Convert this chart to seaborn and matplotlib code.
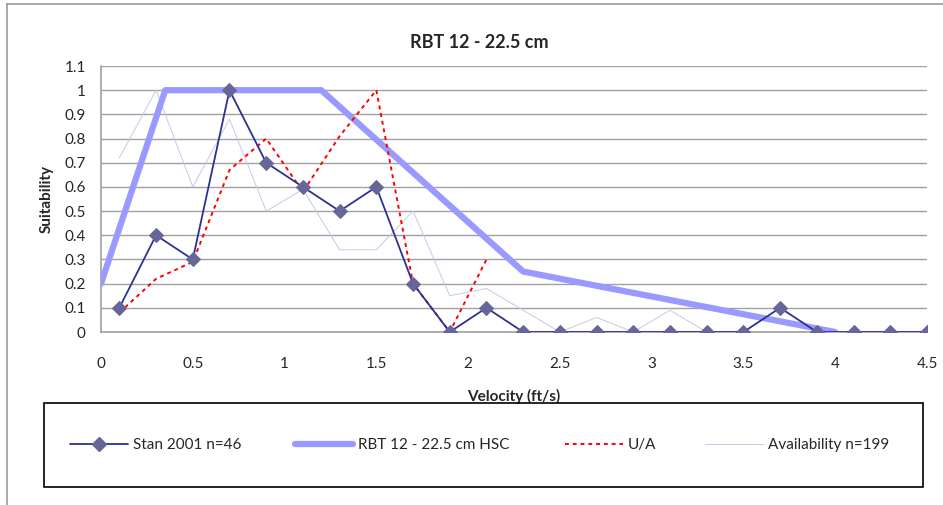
import numpy as np
import seaborn as sns
import matplotlib.pyplot as plt
from matplotlib.patches import Rectangle
from matplotlib.lines import Line2D

# dados
stan_x = [0.1, 0.3, 0.5, 0.7, 0.9, 1.1, 1.3, 1.5, 1.7, 1.9, 2.1, 2.3, 2.5, 2.7, 2.9, 3.1, 3.3, 3.5, 3.7, 3.9, 4.1, 4.3, 4.5]
stan_y = [0.1, 0.4, 0.3, 1.0, 0.7, 0.6, 0.5, 0.6, 0.2, 0.0, 0.1, 0.0, 0.0, 0.0, 0.0, 0.0, 0.0, 0.0, 0.1, 0.0, 0.0, 0.0, 0.0]

hsc_x = [0.0, 0.35, 1.2, 2.3, 4.0]
hsc_y = [0.2, 1.0, 1.0, 0.25, 0.0]

ua_x = [0.1, 0.3, 0.5, 0.7, 0.9, 1.1, 1.3, 1.5, 1.7, 1.9, 2.1]
ua_y = [0.08, 0.22, 0.29, 0.67, 0.80, 0.58, 0.81, 1.0, 0.20, 0.0, 0.30]

avail_x = [0.1, 0.3, 0.5, 0.7, 0.9, 1.1, 1.3, 1.5, 1.7, 1.9, 2.1, 2.3, 2.5, 2.7, 2.9, 3.1, 3.3, 3.5, 3.7, 3.9]
avail_y = [0.72, 1.0, 0.6, 0.88, 0.5, 0.59, 0.34, 0.34, 0.5, 0.15, 0.18, 0.09, 0.0, 0.06, 0.0, 0.09, 0.0, 0.0, 0.0, 0.0]

labels = ['Stan 2001 n=46', 'RBT 12 - 22.5 cm HSC', 'U/A', 'Availability n=199']

sns.set_style('white')
plt.rcParams['font.family'] = ['Lato', 'DejaVu Sans']

W, H = 943, 505
fig = plt.figure(figsize=(W / 100, H / 100), dpi=100)
ax = fig.add_axes([101 / W, 1 - 332 / H, 826 / W, 266 / H])

sns.lineplot(x=avail_x, y=avail_y, ax=ax, color='#c8c8e6', linewidth=0.7, zorder=2)
sns.lineplot(x=hsc_x, y=hsc_y, ax=ax, color='#9999ff', linewidth=4.5, zorder=3)
sns.lineplot(x=ua_x, y=ua_y, ax=ax, color='#ff0000', linewidth=1.4,
             linestyle=(0, (2, 2)), zorder=4)
sns.lineplot(x=stan_x, y=stan_y, ax=ax, color='#2e3192', linewidth=1.3,
             marker='D', markersize=7, markerfacecolor='#666699',
             markeredgecolor='#666699', zorder=5)

ax.set_xlim(0, 4.5)
ax.set_ylim(0, 1.1)
ax.set_xticks(np.arange(0, 4.51, 0.5))
ax.set_xticklabels(['0', '0.5', '1', '1.5', '2', '2.5', '3', '3.5', '4', '4.5'])
yt = np.round(np.arange(0, 1.11, 0.1), 1)
ax.set_yticks(yt)
ax.set_yticklabels([('%g' % v) for v in yt])
ax.tick_params(axis='both', labelsize=11, length=5, color='#a0a0a0', direction='out')
ax.tick_params(axis='x', pad=13)
ax.tick_params(axis='y', pad=6)
ax.grid(axis='y', color='#a0a0a0', linewidth=1)
ax.set_axisbelow(True)
for s in ['top', 'right']:
    ax.spines[s].set_visible(False)
for s in ['left', 'bottom']:
    ax.spines[s].set_color('#a0a0a0')
    ax.spines[s].set_linewidth(1.2)

fig.text(479 / W, 1 - 43 / H, 'RBT 12 - 22.5 cm', fontsize=13, fontweight='bold',
         ha='center', va='center')
ax.set_xlabel('Velocity (ft/s)', fontsize=11, fontweight='bold', labelpad=13)
ax.set_ylabel('Suitability', fontsize=11, fontweight='bold', labelpad=8)

# borda externa do grafico (cortada)
fig.add_artist(Line2D([7 / W, 7 / W], [0, 1 - 4 / H], color='#999999', lw=1.2))
fig.add_artist(Line2D([7 / W, 1], [1 - 4 / H, 1 - 4 / H], color='#999999', lw=1.2))

# caixa da legenda
fig.add_artist(Rectangle((44 / W, 1 - 487 / H), (923 - 44) / W, (487 - 403) / H,
                         transform=fig.transFigure, fill=False, edgecolor='black', lw=1.2))

handles = [
    Line2D([], [], color='#2e3192', lw=1.3, marker='D', markersize=7,
           markerfacecolor='#666699', markeredgecolor='#666699'),
    Line2D([], [], color='#9999ff', lw=4.5),
    Line2D([], [], color='#ff0000', lw=1.4, linestyle=(0, (2, 2))),
    Line2D([], [], color='#c8c8e6', lw=0.7),
]
starts = [70, 295, 565, 705]
for hd, lb, x0 in zip(handles, labels, starts):
    fig.legend([hd], [lb], loc='center left', bbox_to_anchor=(x0 / W, 1 - 445 / H),
               frameon=False, fontsize=11, handlelength=3.8, handletextpad=0.3,
               borderpad=0, borderaxespad=0)

fig.savefig('out.png', dpi=100)
